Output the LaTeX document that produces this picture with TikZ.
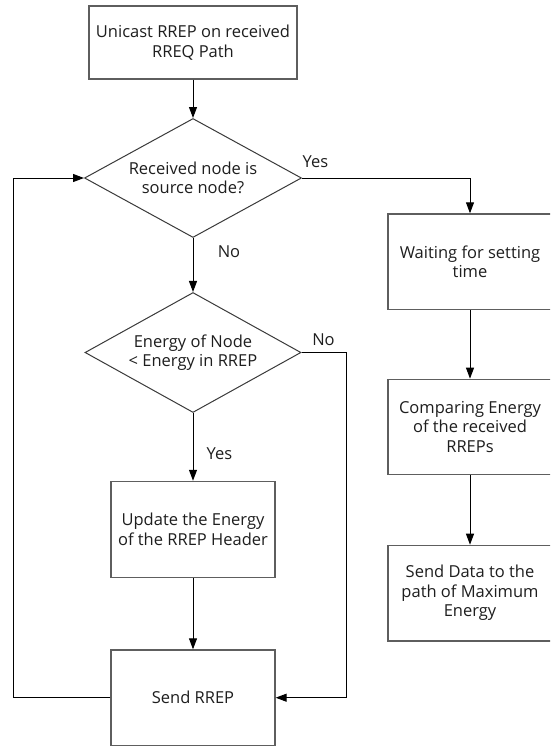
\documentclass[tikz,border=0pt]{standalone}
\usepackage{fontspec}
\setmainfont{Open Sans}
\usetikzlibrary{shapes.geometric,arrows.meta}
\definecolor{boxgray}{HTML}{5E5E5E}
\definecolor{diagray}{HTML}{3A3A3A}
\definecolor{txtgray}{HTML}{1E1E1E}
\begin{document}
\begin{tikzpicture}[x=1pt,y=-1pt,
  txt/.style={font=\fontsize{16.5}{19.5}\selectfont, text=txtgray},
  procbox/.style={rectangle, draw=boxgray, line width=1.3pt, inner sep=0pt, align=center, fill=white, txt},
  decision/.style={diamond, draw=diagray, line width=1pt, aspect=1.82, inner sep=0pt, align=center, txt},
  conn/.style={draw=black, line width=1pt, -{Triangle[length=11pt,width=8pt]}},
  lbl/.style={inner sep=0pt, txt}]
\useasboundingbox (0,0) rectangle (550,747);
\clip (0,0) rectangle (550,747);
\fill[white] (0,0) rectangle (550,747);

\node[procbox, minimum width=208pt, minimum height=73pt] (start) at (193,42.5) {Unicast RREP on received\\RREQ Path};
\node[decision, minimum width=217pt, minimum height=119pt] (src) at (193,178) {Received node is\\source node?};
\node[decision, minimum width=216pt, minimum height=120pt] (cmp) at (193,352.5) {Energy of Node\\< Energy in RREP};
\node[procbox, minimum width=164pt, minimum height=96pt] (upd) at (193,529.4) {Update the Energy\\of the RREP Header};
\node[procbox, minimum width=164pt, minimum height=95.5pt] (send) at (193,697.7) {Send RREP};
\node[procbox, minimum width=164pt, minimum height=95.5pt] (wait) at (470,261.7) {Waiting for setting\\time};
\node[procbox, minimum width=164pt, minimum height=95pt] (comp) at (470,426.8) {Comparing Energy\\of the received\\RREPs};
\node[procbox, minimum width=164pt, minimum height=95.7pt] (data) at (470,593.2) {Send Data to the\\path of Maximum\\Energy};

\coordinate (nocol) at (346.7,0);
\coordinate (loopcol) at (13,0);

\draw[conn] (start) -- (src);
\draw[conn] (src) -- (cmp);
\draw[conn] (cmp) -- (upd);
\draw[conn] (upd) -- (send);
\draw[conn] (src.east) -| (wait.north);
\draw[conn] (wait) -- (comp);
\draw[conn] (comp) -- (data);
\draw[conn] (cmp.east) -- (cmp.east -| nocol) |- (send.east);
\draw[conn] (send.west) -- (send.west -| loopcol) |- (src.west);

\node[lbl] (yes1) at (315.5,161.7) {Yes};
\node[lbl] (no1) at (229,251.7) {No};
\node[lbl] (no2) at (323.5,339.5) {No};
\node[lbl] (yes2) at (219.5,453.3) {Yes};
\end{tikzpicture}
\end{document}
